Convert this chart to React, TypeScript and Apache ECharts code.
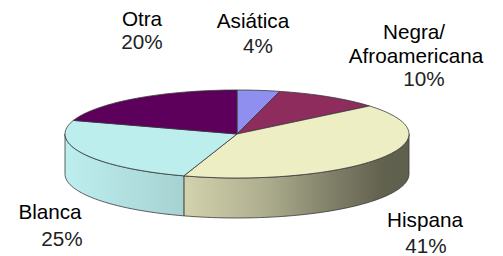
import React, { useEffect, useRef } from 'react';
import * as echarts from 'echarts';

// ---- data ----
const categories = ['Asiática', 'Negra/Afroamericana', 'Hispana', 'Blanca', 'Otra'];
const values = [4, 10, 41, 25, 20];
const percentLabels = ['4%', '10%', '41%', '25%', '20%'];

// ---- styles / layout ----
const topColors = ['#8f8ff0', '#8e2c5e', '#eeeec4', '#bdeeee', '#5c005c'];
const CX = 237, CY = 134, RX = 172, RY = 44, DEPTH = 40;
// per label: [centerX, baselineY] for each text line
const labelLines: number[][][] = [
  [[253, 27], [258, 52]],
  [[414, 38], [416, 62], [424, 85]],
  [[425, 226], [426, 252]],
  [[50, 218], [62, 245]],
  [[142, 25], [142, 48]],
];
const FONT_SIZE = 20.7;

function shade(hex: string, f: number) {
  const n = parseInt(hex.slice(1), 16);
  const r = Math.round(((n >> 16) & 255) * f);
  const g = Math.round(((n >> 8) & 255) * f);
  const b = Math.round((n & 255) * f);
  return `rgb(${r},${g},${b})`;
}

const shadeStops: [number, number][] = [
  [0, 1.0], [0.355, 0.88], [0.57, 0.74], [0.77, 0.54], [0.92, 0.41], [1, 0.4],
];

export default function App() {
  const ref = useRef<HTMLDivElement>(null);
  useEffect(() => {
    document.body.style.margin = '0';
    const chart = echarts.init(ref.current!, null, { renderer: 'svg' });
    const total = values.reduce((a, b) => a + b, 0);
    const TAU = Math.PI * 2;
    const pt = (a: number, dy = 0) => [CX + RX * Math.sin(a), CY - RY * Math.cos(a) + dy];
    const arc = (a0: number, a1: number, dy = 0) => {
      const n = Math.max(2, Math.ceil(((a1 - a0) / TAU) * 180));
      const pts: number[][] = [];
      for (let k = 0; k <= n; k++) pts.push(pt(a0 + ((a1 - a0) * k) / n, dy));
      return pts;
    };

    const renderItem = (params: any, api: any) => {
      const i = params.dataIndex;
      const v = api.value(0);
      let start = 0;
      for (let j = 0; j < i; j++) start += values[j];
      const a0 = (start / total) * TAU;
      const a1 = ((start + v) / total) * TAU;
      const children: any[] = [];
      const s = Math.max(a0, Math.PI / 2);
      const e = Math.min(a1, (Math.PI * 3) / 2);
      if (s < e) {
        const pts = arc(s, e).concat(arc(s, e, DEPTH).reverse());
        children.push({
          type: 'polygon',
          shape: { points: pts },
          style: {
            fill: {
              type: 'linear', x: CX - RX, y: 0, x2: CX + RX, y2: 0, global: true,
              colorStops: shadeStops.map(([o, f]) => ({ offset: o, color: shade(topColors[i], f) })),
            },
            stroke: '#383838', lineWidth: 0.8,
          },
        });
      }
      const topPts = [[CX, CY]].concat(arc(a0, a1));
      children.push({
        type: 'polygon',
        shape: { points: topPts },
        style: { fill: topColors[i], stroke: '#383838', lineWidth: 0.8 },
      });
      return { type: 'group', children };
    };

    const graphics: any[] = [];
    categories.forEach((name, i) => {
      const lines = name.split(/(?<=\/)/).concat([percentLabels[i]]);
      lines.forEach((t, k) => {
        const [x, y] = labelLines[i][k];
        graphics.push({
          type: 'text',
          x, y: y - 7,
          style: {
            text: t,
            fill: k === lines.length - 1 ? '#222' : '#000',
            font: `${FONT_SIZE}px "Liberation Sans", Arial, sans-serif`,
            align: 'center',
            verticalAlign: 'middle',
          },
        });
      });
    });

    chart.setOption({
      animation: false,
      backgroundColor: '#ffffff',
      series: [
        {
          type: 'custom',
          coordinateSystem: 'none',
          renderItem,
          data: values.map((v, i) => ({ name: categories[i], value: [v] })),
        },
      ],
      graphic: graphics,
    });
    return () => chart.dispose();
  }, []);
  return <div ref={ref} style={{ position: 'fixed', left: 0, top: 0, width: 503, height: 256 }} />;
}
